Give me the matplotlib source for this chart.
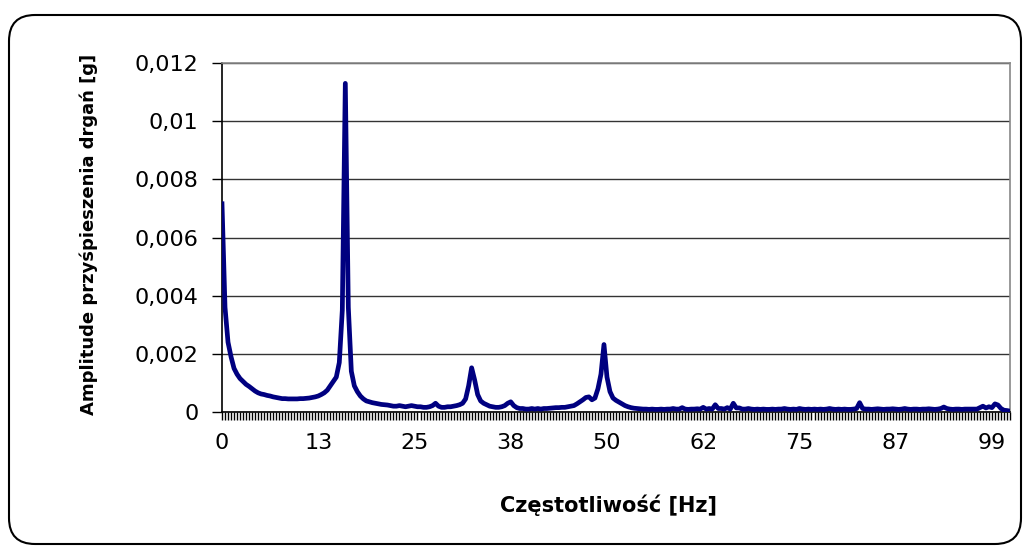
import matplotlib
matplotlib.use("Agg")
import matplotlib.pyplot as plt
from matplotlib.patches import FancyBboxPatch
from matplotlib.transforms import IdentityTransform

# amplitude spectrum, one value per spectral line
amplitude = [
    0.00716, 0.0036, 0.0024, 0.0019, 0.0015, 0.0013, 0.00115, 0.00105, 0.00095, 0.00088,
    0.0008, 0.00072, 0.00066, 0.00062, 0.0006, 0.00057, 0.00055, 0.00052, 0.0005, 0.00048,
    0.00046, 0.00046, 0.00045, 0.00045, 0.00045, 0.00045, 0.00046, 0.00046, 0.00047, 0.00048,
    0.0005, 0.00052, 0.00055, 0.0006, 0.00066, 0.00075, 0.0009, 0.00105, 0.0012, 0.0017,
    0.0035, 0.0113, 0.0036, 0.0014, 0.0009, 0.0007, 0.00055, 0.00045, 0.00038, 0.00035,
    0.00032, 0.0003, 0.00028, 0.00026, 0.00025, 0.00024, 0.00022, 0.0002, 0.0002, 0.00022,
    0.0002, 0.00018, 0.0002, 0.00022, 0.0002, 0.00018, 0.00018, 0.00016, 0.00016, 0.00018,
    0.00022, 0.0003, 0.0002, 0.00016, 0.00016, 0.00018, 0.00018, 0.0002, 0.00022, 0.00025,
    0.0003, 0.00045, 0.0009, 0.00152, 0.0011, 0.0006, 0.00038, 0.0003, 0.00025, 0.0002,
    0.00018, 0.00016, 0.00016, 0.00018, 0.00022, 0.0003, 0.00035, 0.00022, 0.00015, 0.00012,
    0.00012, 0.0001, 0.0001, 0.00012, 0.0001, 0.00012, 0.0001, 0.00012, 0.00012, 0.00013,
    0.00014, 0.00015, 0.00015, 0.00016, 0.00016, 0.00018, 0.0002, 0.00022, 0.00028, 0.00035,
    0.00042, 0.0005, 0.00052, 0.00042, 0.00048, 0.0008, 0.0013, 0.00232, 0.0012, 0.0007,
    0.00048, 0.0004, 0.00034, 0.00028, 0.00022, 0.00018, 0.00015, 0.00013, 0.00012, 0.00011,
    0.0001, 0.0001, 0.00009, 0.0001, 0.00009, 0.00009, 0.0001, 0.00009, 0.0001, 0.0001,
    0.00012, 0.0001, 0.0001, 0.00015, 0.0001, 0.00009, 0.0001, 0.0001, 0.00011, 0.0001,
    0.00016, 0.0001, 0.00012, 0.0001, 0.00025, 0.00012, 0.00012, 0.0001, 0.00015, 0.0001,
    0.0003, 0.00014, 0.00014, 0.0001, 0.0001, 0.00012, 0.0001, 0.00009, 0.0001, 0.00009,
    0.0001, 0.00009, 0.00009, 0.0001, 0.00009, 0.0001, 0.0001, 0.00012, 0.0001, 0.00009,
    0.0001, 0.00009, 0.00012, 0.0001, 0.00009, 0.0001, 0.00009, 0.0001, 0.00009, 0.0001,
    0.00009, 0.0001, 0.00012, 0.0001, 0.00009, 0.0001, 0.00009, 0.0001, 0.00009, 0.00009,
    0.0001, 0.00012, 0.00032, 0.00012, 0.0001, 0.0001, 0.00009, 0.0001, 0.00011, 0.0001,
    0.00009, 0.0001, 0.0001, 0.00011, 0.0001, 0.00009, 0.0001, 0.00012, 0.0001, 0.00009,
    0.0001, 0.0001, 0.00009, 0.0001, 0.0001, 0.00011, 0.0001, 0.00009, 0.0001, 0.00012,
    0.00017, 0.00012, 0.0001, 0.00009, 0.0001, 0.0001, 0.00009, 0.0001, 0.0001, 0.0001,
    0.0001, 0.0001, 0.00015, 0.0002, 0.00014, 0.00018, 0.00015, 0.00028, 0.00024, 0.00012,
    0.00006, 0.00005, 0.00003,
]
freq_labels = ["0", "13", "25", "38", "50", "62", "75", "87", "99"]
label_step = 32
y_ticks = [0, 0.002, 0.004, 0.006, 0.008, 0.010, 0.012]
y_labels = ["0", "0,002", "0,004", "0,006", "0,008", "0,01", "0,012"]

plt.rcParams['font.family'] = ['DejaVu Sans']

fig = plt.figure(figsize=(10.26, 5.48), dpi=100)

# rounded chart-area frame (pixel coordinates)
frame = FancyBboxPatch((9, 4), 1012, 529, boxstyle="round,pad=0,rounding_size=26",
                       transform=IdentityTransform(), facecolor="none",
                       edgecolor="black", linewidth=1.5, zorder=5)
fig.patches.append(frame)

ax = fig.add_axes([222 / 1026, 1 - 412 / 548, 788 / 1026, 349 / 548])
ax.set_facecolor("none")

x = list(range(len(amplitude)))
ax.plot(x, amplitude, color="#000080", linewidth=3.4, solid_joinstyle="round", zorder=3)

ax.set_xlim(0, len(amplitude) - 1)
ax.set_ylim(0, 0.012)

ax.set_yticks(y_ticks)
ax.set_yticklabels(y_labels)
ax.yaxis.grid(True, color="#333333", linewidth=1)
ax.set_axisbelow(True)

ax.set_xticks(x, minor=True)
ax.set_xticks(range(0, label_step * len(freq_labels), label_step))
ax.set_xticklabels(freq_labels)
ax.tick_params(axis="x", which="both", direction="out", length=6, width=1, color="black")
ax.tick_params(axis="x", which="major", labelsize=16, pad=9)
ax.tick_params(axis="y", direction="out", length=7, width=1, labelsize=16, pad=10)

ax.spines["left"].set_color("black")
ax.spines["bottom"].set_color("black")
ax.spines["top"].set_color("#888888")
ax.spines["right"].set_color("#888888")
for s in ax.spines.values():
    s.set_linewidth(1.2)

ax.set_ylabel("Amplitude przyśpieszenia drgań [g]", fontsize=13, fontweight="bold")
ax.yaxis.set_label_coords(-0.157, 0.51)
ax.set_xlabel("Częstotliwość [Hz]", fontsize=15, fontweight="bold")
ax.xaxis.set_label_coords(0.49, -0.235)

fig.savefig("out.png", dpi=100)
